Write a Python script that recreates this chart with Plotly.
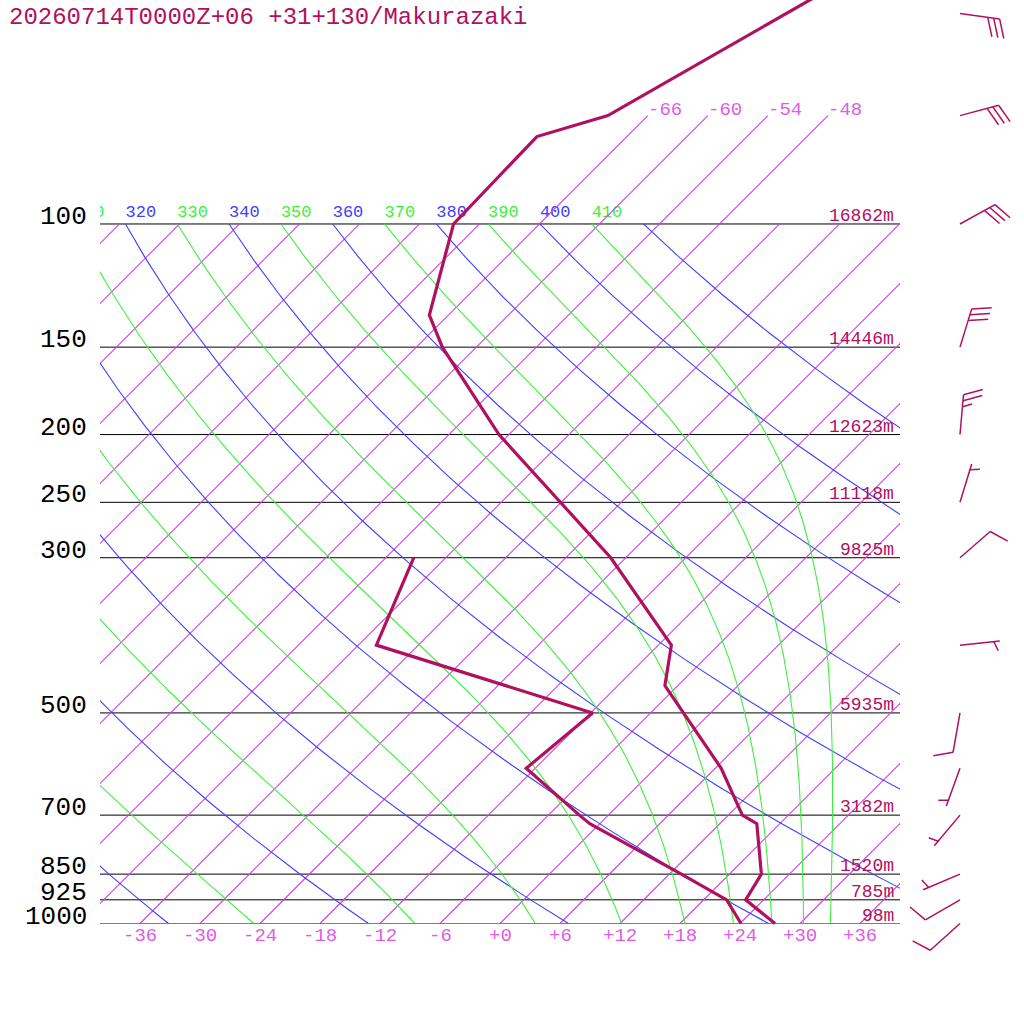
import numpy as np
import plotly.graph_objects as go

title = "20260714T0000Z+06 +31+130/Makurazaki"

# sounding (hPa, degC)
temp_p = [1000, 925, 850, 720, 700, 600, 457, 400, 300, 250, 200, 150, 135, 100, 75, 70, 50, 40]
temp_t = [27.5, 22.2, 21.2, 15.7, 13.4, 6.6, -7.3, -10.7, -25.5, -36.1, -49.0, -63.4, -67.9, -74.6, -75.0, -70.0, -62.4, -57.3]
dewp_p = [1000, 925, 850, 720, 700, 600, 500, 400, 300]
dewp_t = [24.1, 20.3, 13.2, -1.0, -2.9, -12.9, -11.8, -40.2, -45.2]

# winds (direction from, knots)
wind_p = [1000, 925, 850, 700, 600, 500, 400, 300, 250, 200, 150, 100, 70, 50]
wind_dir = [228, 240, 247, 220, 200, 190, 84, 49, 17, 5, 17, 61, 75, 98]
wind_kt = [10, 10, 5, 5, 5, 10, 5, 10, 5, 25, 30, 30, 30, 30]

levels = [100, 150, 200, 250, 300, 500, 700, 850, 925, 1000]
heights = ["16862m", "14446m", "12623m", "11118m", "9825m", "5935m", "3182m", "1520m", "785m", "98m"]

temp_ticks = list(range(-36, 37, 6))
isotherms = list(range(-108, 37, 6))
upper_isotherms = [-66, -60, -54, -48]
dry_thetas = list(range(200, 421, 20))
moist_thetas = list(range(210, 411, 20))
theta_labels = list(range(310, 411, 10))

# geometry of the 1024 px canvas
W = H = 1024
Y1000 = 923.5
PX_LN = 303.8
X0 = 500
PX_DEG = 10
BOX_L, BOX_R, BOX_T = 100, 900, 195
SKEW = PX_LN / PX_DEG
KAPPA = 0.2857

LINE = "#b0105e"
ISO = "#d040e0"
ISO_TXT = "#e05ce4"
BLUE = "#4040ff"
GREEN = "#3ef03e"
FONT = "Liberation Mono"


def sx(t, p):
    return np.asarray(t, float) + SKEW * np.log(1000.0 / np.asarray(p, float))


def p_of(ypx):
    return 1000.0 * np.exp(-(Y1000 - ypx) / PX_LN)


def x_of(xpx):
    return (xpx - X0) / PX_DEG


def y_px(p):
    return Y1000 - PX_LN * np.log(1000.0 / p)


def dtdlnp(t, p):
    tc = t - 273.15
    es = 6.112 * np.exp(17.67 * tc / (tc + 243.5))
    rs = 0.622 * es / (p - es)
    lv, rd, cp = 2.501e6, 287.04, 1005.7
    return (rd * t + lv * rs) / (cp + lv * lv * rs * 0.622 / (rd * t * t))


def moist_adiabat(theta, ps):
    # pseudo-adiabat integrated down from 100 hPa
    t = theta * (ps[0] / 1000.0) ** KAPPA
    out = [t]
    for i in range(1, len(ps)):
        h = np.log(ps[i]) - np.log(ps[i - 1])
        p0 = ps[i - 1]
        k1 = dtdlnp(t, p0)
        k2 = dtdlnp(t + h * k1 / 2, p0 * np.exp(h / 2))
        k3 = dtdlnp(t + h * k2 / 2, p0 * np.exp(h / 2))
        k4 = dtdlnp(t + h * k3, ps[i])
        t = t + h * (k1 + 2 * k2 + 2 * k3 + k4) / 6
        out.append(t)
    return np.array(out) - 273.15


def joined(segs):
    xs, ys = [], []
    for x, y in segs:
        xs += list(x) + [None]
        ys += list(y) + [None]
    return xs, ys


fig = go.Figure()
ps = np.geomspace(100, 1000, 200)

# background grid inside the box (clipped by the box subplot)
xs, ys = joined([([x_of(BOX_L), x_of(BOX_R)], [p, p]) for p in levels])
fig.add_trace(go.Scatter(x=xs, y=ys, mode="lines", line=dict(color="black", width=1)))

xs, ys = joined([(sx([t, t], [1000, 100]), [1000, 100]) for t in isotherms])
fig.add_trace(go.Scatter(x=xs, y=ys, mode="lines", line=dict(color=ISO, width=1.1)))

xs, ys = joined([(sx(th * (ps / 1000) ** KAPPA - 273.15, ps), ps) for th in dry_thetas])
fig.add_trace(go.Scatter(x=xs, y=ys, mode="lines", line=dict(color=BLUE, width=1.1)))

xs, ys = joined([(sx(moist_adiabat(th, ps), ps), ps) for th in moist_thetas])
fig.add_trace(go.Scatter(x=xs, y=ys, mode="lines", line=dict(color=GREEN, width=1.1)))

lab_p = p_of(212.5)
fig.add_trace(go.Scatter(
    x=[float(sx(th * 0.1 ** KAPPA - 273.15, 100)) for th in theta_labels],
    y=[lab_p] * len(theta_labels), mode="text",
    text=[str(th) for th in theta_labels], textposition="middle right",
    textfont=dict(family=FONT, size=17,
                  color=[BLUE if th % 20 == 0 else GREEN for th in theta_labels])))

# stratospheric isotherms above the box
xs, ys = joined([(sx([t, t], [100, 70]), [100, 70]) for t in upper_isotherms])
fig.add_trace(go.Scatter(x=xs, y=ys, mode="lines", line=dict(color=ISO, width=1.1),
                         xaxis="x2", yaxis="y2"))

# sounding
fig.add_trace(go.Scatter(x=sx(dewp_t, dewp_p), y=dewp_p, mode="lines",
                         line=dict(color=LINE, width=3.2), xaxis="x2", yaxis="y2"))
fig.add_trace(go.Scatter(x=sx(temp_t, temp_p), y=temp_p, mode="lines",
                         line=dict(color=LINE, width=3.2), xaxis="x2", yaxis="y2"))

# wind barbs
segs = []
ang = np.radians(70)
for p, d, kt in zip(wind_p, wind_dir, wind_kt):
    bx, by = 960.0, y_px(p)
    ux, uy = np.sin(np.radians(d)), -np.cos(np.radians(d))
    nx, ny = -uy, ux
    fx, fy = np.cos(ang) * ux + np.sin(ang) * nx, np.cos(ang) * uy + np.sin(ang) * ny
    tx, ty = bx + 40 * ux, by + 40 * uy
    segs.append(([bx, tx], [by, ty]))
    full, half = divmod(int(round(kt / 5)), 2)
    k = 0 if full else 1
    for length in [20] * full + [10] * half:
        sx0, sy0 = tx - 6 * k * ux, ty - 6 * k * uy
        segs.append(([sx0, sx0 + length * fx], [sy0, sy0 + length * fy]))
        k += 1
xs, ys = joined([([x_of(a) for a in x], [p_of(b) for b in y]) for x, y in segs])
fig.add_trace(go.Scatter(x=xs, y=ys, mode="lines", line=dict(color=LINE, width=1.5),
                         xaxis="x2", yaxis="y2"))

ann = []
ann.append(dict(x=7 / W, y=1 - 17 / H, xref="paper", yref="paper", text=title,
                xanchor="left", yanchor="middle", showarrow=False,
                font=dict(family=FONT, size=24, color=LINE)))
for p, h in zip(levels, heights):
    ann.append(dict(x=x_of(89), y=np.log10(p), xref="x2", yref="y2", text=str(p),
                    xanchor="right", yanchor="middle", yshift=7, showarrow=False,
                    font=dict(family=FONT, size=26, color="black")))
    ann.append(dict(x=x_of(896), y=np.log10(p), xref="x2", yref="y2", text=h,
                    xanchor="right", yanchor="middle", yshift=8, showarrow=False,
                    font=dict(family=FONT, size=18, color=LINE)))
for t in temp_ticks:
    ann.append(dict(x=float(t), y=np.log10(p_of(936)), xref="x2", yref="y2",
                    text=f"{t:+d}", xanchor="center", yanchor="middle", showarrow=False,
                    font=dict(family=FONT, size=19, color=ISO_TXT)))
for t in upper_isotherms:
    ann.append(dict(x=float(sx(t, 70)) - 0.2, y=np.log10(p_of(110)), xref="x2", yref="y2",
                    text=str(t), xanchor="left", yanchor="middle", showarrow=False,
                    font=dict(family=FONT, size=19, color=ISO_TXT)))

hidden = dict(visible=False, showgrid=False, zeroline=False)
fig.update_layout(
    width=W, height=H, margin=dict(l=0, r=0, t=0, b=0),
    paper_bgcolor="white", plot_bgcolor="rgba(0,0,0,0)", showlegend=False,
    annotations=ann,
    xaxis=dict(hidden, range=[x_of(BOX_L), x_of(BOX_R)], domain=[BOX_L / W, BOX_R / W], anchor="y"),
    yaxis=dict(hidden, type="log", range=[3, np.log10(p_of(BOX_T))],
               domain=[1 - Y1000 / H, 1 - BOX_T / H], anchor="x"),
    xaxis2=dict(hidden, range=[x_of(0), x_of(W)], domain=[0, 1], anchor="y2"),
    yaxis2=dict(hidden, type="log", range=[np.log10(p_of(H)), np.log10(p_of(0))],
                domain=[0, 1], anchor="x2"),
)
fig.write_html("out.html", config={"displayModeBar": False},
               post_script="document.body.style.margin='0px';")
